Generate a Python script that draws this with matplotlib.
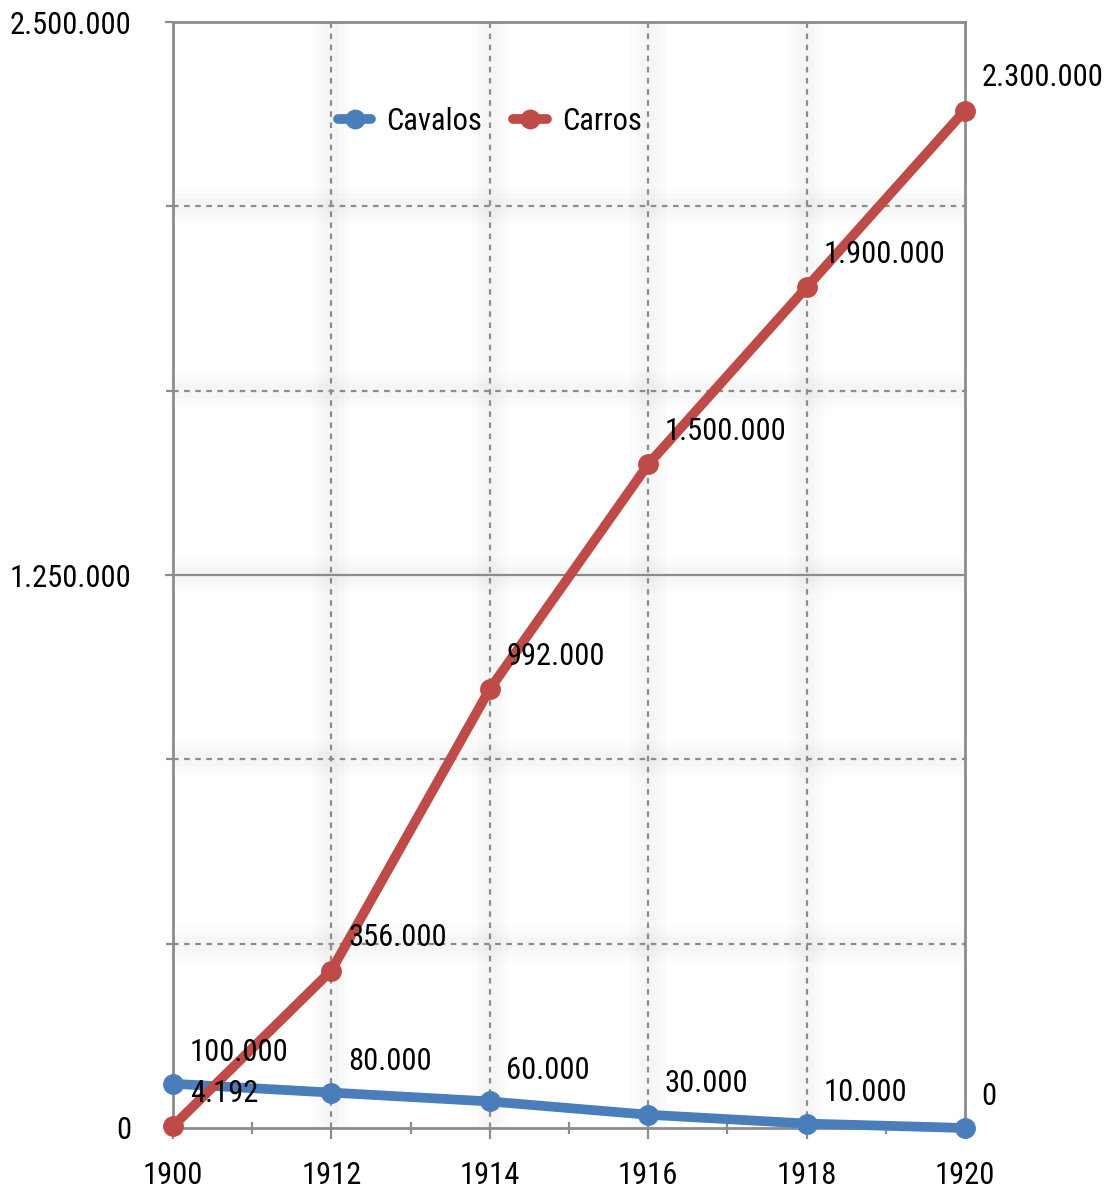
import matplotlib
matplotlib.use("Agg")
import matplotlib.pyplot as plt
from matplotlib.ticker import FixedLocator, FuncFormatter

anos = ["1900", "1912", "1914", "1916", "1918", "1920"]
cavalos = [100000, 80000, 60000, 30000, 10000, 0]
carros = [4192, 356000, 992000, 1500000, 1900000, 2300000]

azul = "#4a7ebb"
vermelho = "#be4b48"
cinza = "#8c8c8c"

plt.rcParams['font.family'] = ['Roboto Condensed', 'Liberation Sans Narrow', 'DejaVu Sans']


def fmt(v):
    return f"{int(v):,}".replace(",", ".")


fig = plt.figure(figsize=(11.04, 11.91), dpi=100)
ax = fig.add_axes([0.1567, 0.0529, 0.874 - 0.1567, 0.9815 - 0.0529])

x = list(range(len(anos)))
ymax = 2500000
passo = ymax / 6

# sombra suave das grades
for k in range(1, 6):
    for w in (26, 18, 10):
        ax.axhline(k * passo, color="black", lw=w, alpha=0.012, zorder=0.5)
for k in range(1, 5):
    for w in (26, 18, 10):
        ax.axvline(k, color="black", lw=w, alpha=0.01, zorder=0.5)

for k in range(1, 6):
    if k == 3:
        ax.axhline(k * passo, color=cinza, lw=1.6, zorder=1)
    else:
        ax.axhline(k * passo, color=cinza, lw=1.6, ls=(0, (2.5, 2.5)), zorder=1)
for k in range(1, 5):
    ax.axvline(k, color=cinza, lw=1.6, ls=(0, (2.5, 2.5)), zorder=1)

ax.plot(x, cavalos, color=azul, lw=7, marker="o", ms=14, label="Cavalos",
        zorder=3, solid_capstyle="round", clip_on=False)
ax.plot(x, carros, color=vermelho, lw=7, marker="o", ms=14, label="Carros",
        zorder=4, solid_capstyle="round", clip_on=False)

for xi, v in zip(x, cavalos):
    ax.annotate(fmt(v), (xi, v), xytext=(12, 12), textcoords="offset points",
                ha="left", va="bottom", fontsize=22, zorder=6)
for xi, v in zip(x, carros):
    ax.annotate(fmt(v), (xi, v), xytext=(12, 13), textcoords="offset points",
                ha="left", va="bottom", fontsize=22, zorder=6)

ax.set_xlim(0, len(anos) - 1)
ax.set_ylim(0, ymax)
ax.set_xticks(x)
ax.set_xticklabels(anos)
ax.xaxis.set_minor_locator(FixedLocator([i + 0.5 for i in range(len(anos) - 1)]))
ax.set_yticks([0, ymax / 2, ymax])
ax.yaxis.set_major_formatter(FuncFormatter(lambda v, p: fmt(v)))
ax.yaxis.set_minor_locator(FixedLocator([k * passo for k in range(1, 6)]))

ax.tick_params(axis="x", which="major", direction="out", length=8, width=1.6,
               color=cinza, labelsize=22, pad=16)
ax.tick_params(axis="x", which="minor", direction="inout", length=9, width=1.6,
               color=cinza)
ax.tick_params(axis="y", which="major", direction="out", length=6, width=1.6,
               color=cinza, labelsize=22, pad=24)
ax.tick_params(axis="y", which="minor", direction="out", length=5, width=1.6,
               color=cinza)

for s in ax.spines.values():
    s.set_color(cinza)
    s.set_linewidth(2)

ax.legend(loc="center", bbox_to_anchor=(0.40, 0.91), ncol=2, frameon=False,
          fontsize=22, handlelength=1.1, columnspacing=1.0, handletextpad=0.5,
          markerscale=0.95)

fig.savefig("out.png", dpi=100)
